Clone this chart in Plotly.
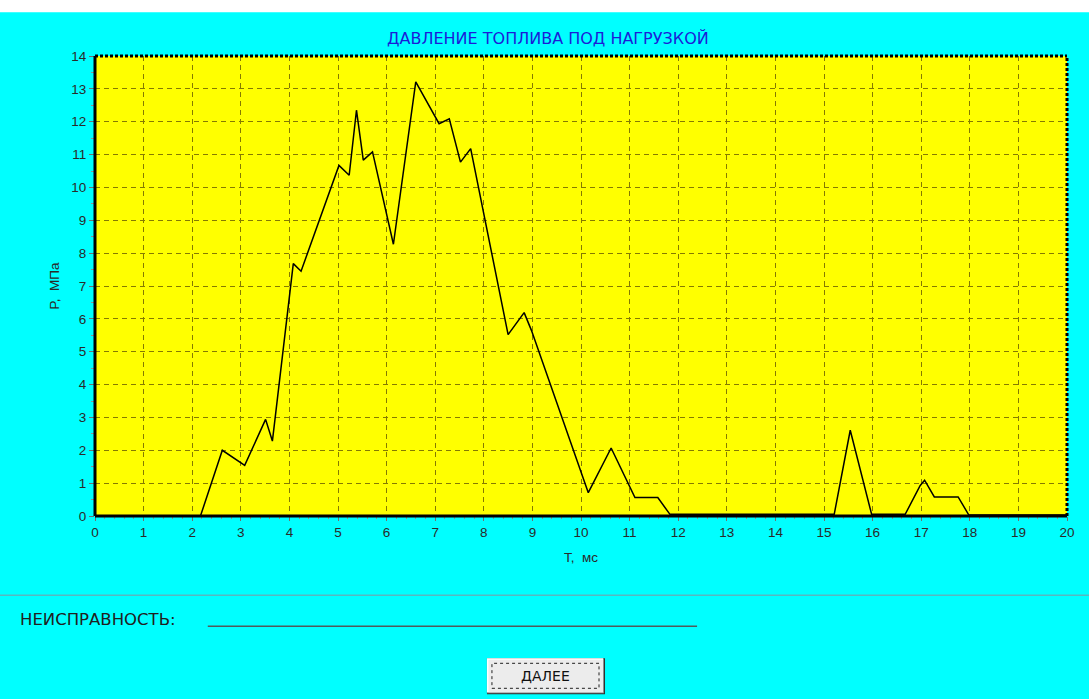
import plotly.graph_objects as go

# ---- data ----
time_ms = [0, 2.17, 2.62, 3.08, 3.51, 3.65, 3.70, 4.08, 4.24, 5.02, 5.23, 5.38, 5.52, 5.71,
           6.14, 6.60, 7.08, 7.29, 7.52, 7.73, 8.50, 8.83, 8.98, 10.15, 10.62, 11.11, 11.58,
           11.83, 15.21, 15.54, 15.98, 16.67, 16.98, 17.07, 17.27, 17.76, 17.98, 20]
pressure_mpa = [0, 0, 2.0, 1.54, 2.94, 2.28, 2.9, 7.68, 7.45, 10.67, 10.37, 12.35, 10.83, 11.08,
                8.27, 13.21, 11.94, 12.09, 10.77, 11.18, 5.52, 6.19, 5.65, 0.71, 2.07, 0.56, 0.56,
                0.05, 0.05, 2.61, 0.05, 0.05, 0.93, 1.09, 0.58, 0.58, 0.03, 0.03]
x_ticks = list(range(0, 21))
y_ticks = list(range(0, 15))

title_text = "ДАВЛЕНИЕ ТОПЛИВА ПОД НАГРУЗКОЙ"
x_title = "T,  мс"
y_title = "P,  МПа"
fault_label = "НЕИСПРАВНОСТЬ:"
button_label = "ДАЛЕЕ"

W, H = 1089, 699
L, R, T, B = 95.3, 1066.7, 55.7, 515.7
PW, PH = R - L, B - T


def px(xp):
    return (xp - L) / PW


def py(yp):
    return (B - yp) / PH


CYAN = "#00FFFF"
YELLOW = "#FFFF00"
GRID = "#857a00"
LABEL_FONT = "DejaVu Sans, sans-serif"

fig = go.Figure()
fig.add_trace(go.Scatter(x=time_ms, y=pressure_mpa, mode="lines",
                         line=dict(color="#000000", width=1.5), showlegend=False,
                         hoverinfo="x+y"))

axis_font = dict(family="Liberation Sans, Arial, sans-serif", size=13.5, color="#2a2a2a")

fig.update_layout(
    width=W, height=H,
    margin=dict(l=L, r=W - R, t=T, b=H - B, pad=0),
    paper_bgcolor=CYAN,
    plot_bgcolor=YELLOW,
    showlegend=False,
    xaxis=dict(range=[0, 20], tickvals=x_ticks, showgrid=True, gridcolor=GRID,
               griddash="5px,4px", gridwidth=1, zeroline=False, showline=False,
               ticks="outside", ticklen=4, tickcolor="#707070", tickfont=axis_font,
               minor=dict(dtick=0.2, ticks="outside", ticklen=2, tickcolor="#909090", showgrid=False),
               title=dict(text=x_title, font=axis_font, standoff=13), fixedrange=True),
    yaxis=dict(range=[0, 14], tickvals=y_ticks, showgrid=True, gridcolor=GRID,
               griddash="5px,4px", gridwidth=1, zeroline=False, showline=False,
               ticks="outside", ticklen=5, tickcolor="#707070", tickfont=axis_font,
               minor=dict(dtick=0.5, ticks="outside", ticklen=3, tickcolor="#909090", showgrid=False),
               title=dict(text=y_title, font=axis_font, standoff=8), fixedrange=True),
)

shapes = []
# white strip on top
shapes.append(dict(type="rect", xref="paper", yref="paper", x0=px(0), x1=px(W),
                   y0=py(12), y1=py(-2), fillcolor="#FFFFFF", line=dict(width=0), layer="below"))
# frame: solid left/bottom, dotted top/right
shapes.append(dict(type="line", xref="paper", yref="paper", x0=0, x1=0, y0=0, y1=1,
                   line=dict(color="#000000", width=3)))
shapes.append(dict(type="line", xref="paper", yref="paper", x0=0, x1=1, y0=0, y1=0,
                   line=dict(color="#000000", width=3)))
shapes.append(dict(type="line", xref="paper", yref="paper", x0=0, x1=1, y0=1, y1=1,
                   line=dict(color="#000000", width=3, dash="3px,2px")))
shapes.append(dict(type="line", xref="paper", yref="paper", x0=1, x1=1, y0=0, y1=1,
                   line=dict(color="#000000", width=3, dash="3px,2px")))
# divider line
shapes.append(dict(type="line", xref="paper", yref="paper", x0=px(0), x1=px(W),
                   y0=py(595), y1=py(595), line=dict(color="#58b8c0", width=1.5)))
# fault input line
shapes.append(dict(type="line", xref="paper", yref="paper", x0=px(208), x1=px(697),
                   y0=py(626), y1=py(626), line=dict(color="#505a5a", width=1.5)))
# button
shapes.append(dict(type="rect", xref="paper", yref="paper", x0=px(487), x1=px(605),
                   y0=py(694), y1=py(658), fillcolor="#303030", line=dict(width=0)))
shapes.append(dict(type="rect", xref="paper", yref="paper", x0=px(487), x1=px(604),
                   y0=py(693), y1=py(658), fillcolor="#8a8a8a", line=dict(width=0)))
shapes.append(dict(type="rect", xref="paper", yref="paper", x0=px(487), x1=px(603),
                   y0=py(692), y1=py(658), fillcolor="#ffffff", line=dict(width=0)))
shapes.append(dict(type="rect", xref="paper", yref="paper", x0=px(488.5), x1=px(603),
                   y0=py(692), y1=py(659.5), fillcolor="#ececec", line=dict(width=0)))
shapes.append(dict(type="rect", xref="paper", yref="paper", x0=px(492), x1=px(599),
                   y0=py(688), y1=py(663), fillcolor="rgba(0,0,0,0)",
                   line=dict(color="#202020", width=1, dash="dot")))
fig.update_layout(shapes=shapes)

annotations = [
    dict(text=title_text, x=px(548), y=py(38), xref="paper", yref="paper", showarrow=False,
         xanchor="center", yanchor="middle",
         font=dict(family=LABEL_FONT, size=16, color="#1c1cd8")),
    dict(text=fault_label, x=px(18), y=py(619), xref="paper", yref="paper", showarrow=False,
         xanchor="left", yanchor="middle",
         font=dict(family=LABEL_FONT, size=16.5, color="#202020")),
    dict(text=button_label, x=px(546), y=py(676), xref="paper", yref="paper", showarrow=False,
         xanchor="center", yanchor="middle",
         font=dict(family=LABEL_FONT, size=14, color="#101010")),
]
fig.update_layout(annotations=annotations)

fig.write_html("out.html", config={"displayModeBar": False},
               post_script="document.body.style.margin='0px';")
